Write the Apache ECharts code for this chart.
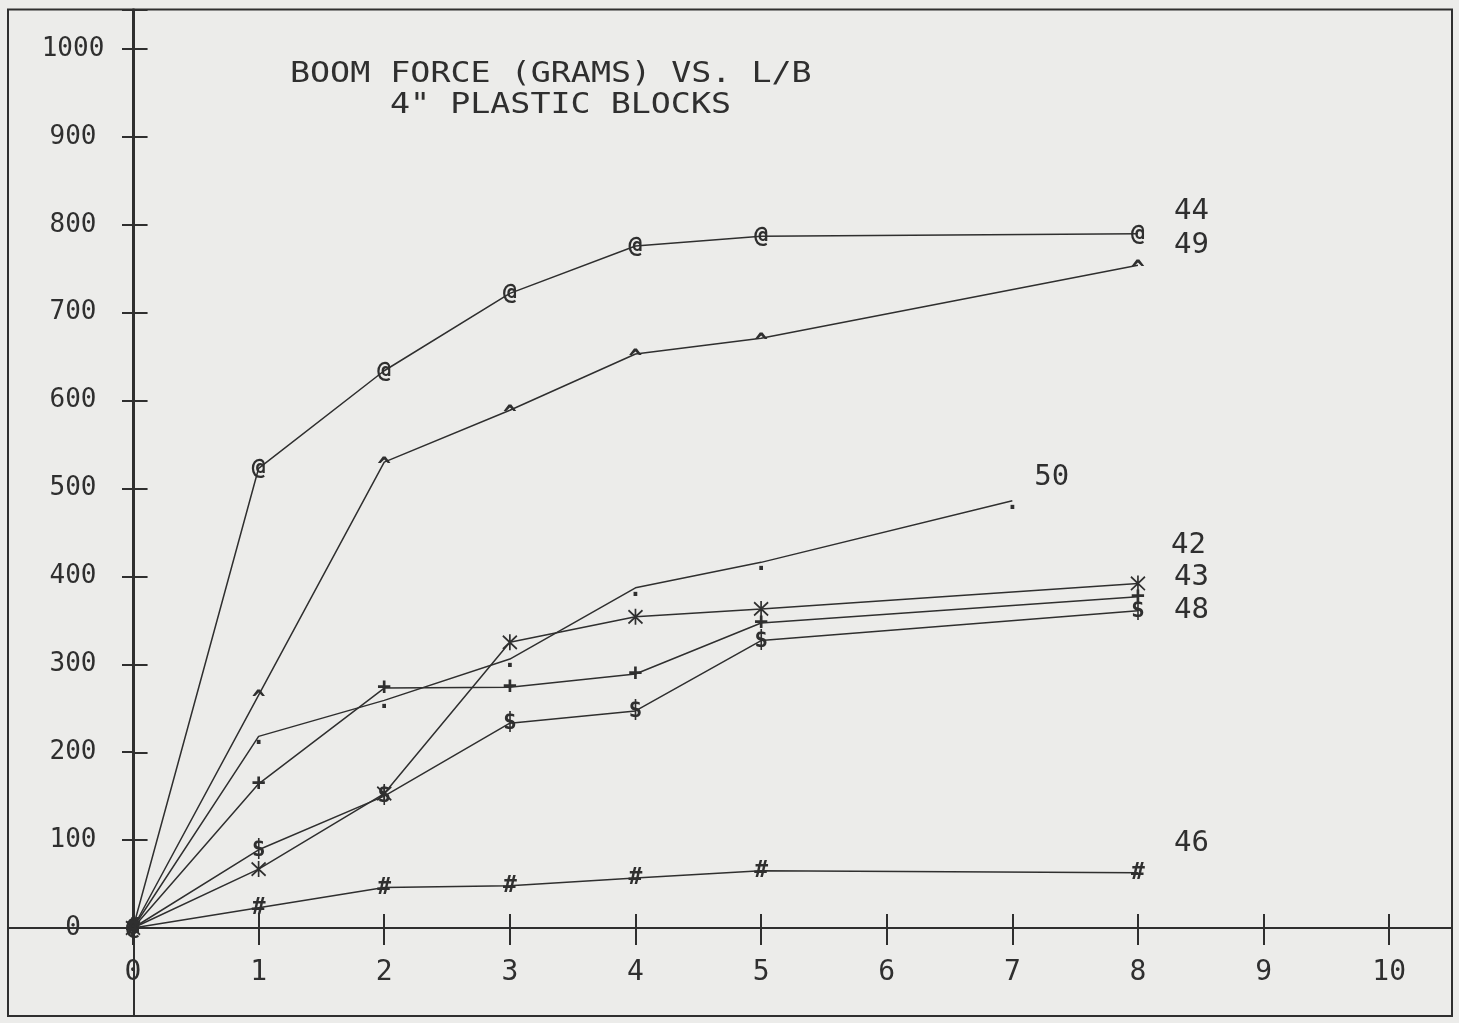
<!DOCTYPE html>
<html>
<head>
<meta charset="utf-8">
<script src="https://cdn.jsdelivr.net/npm/echarts@6/dist/echarts.min.js"></script>
<style>
  html, body { margin: 0; background: #ececea; }
  #chart { width: 1459px; height: 1023px; }
</style>
</head>
<body>
<div id="chart"></div>
<script>
// L/B values (x) and boom force in grams (y)
const lbMain = [0, 1, 2, 3, 4, 5, 8];
const lb50 = [0, 1, 2, 3, 4, 5, 7];

const force44 = [0, 523, 634, 722, 776, 787, 790];
const force49 = [0, 265, 530, 589, 653, 671, 754];
const force50 = [0, 218, 259, 306, 387, 416, 486];
const force42 = [0, 67, 153, 325, 354, 363, 392];
const force43 = [0, 164, 273, 274, 289, 347, 377];
const force48 = [0, 89, 150, 233, 247, 327, 361];
const force46 = [0, 23, 46, 48, 57, 65, 63];

const xTickLabels = [0, 1, 2, 3, 4, 5, 6, 7, 8, 9, 10];
const yTickLabels = [0, 100, 200, 300, 400, 500, 600, 700, 800, 900, 1000];

const ink = "#2f2f2f";
const mono = '"DejaVu Sans Mono", "Liberation Mono", monospace';

// plotter glyph used for each run, plus where its number is written
const styleFor = {
  "44": { mark: "@", markOffset: [0, 0], endOffset: [28, -22] },
  "49": { mark: "^", markOffset: [0, 6], endOffset: [28, -20] },
  "50": { mark: ".", markOffset: [0, 2], endOffset: [14, -23] },
  "42": { mark: null, markOffset: [0, 0], endOffset: [25, -38] },
  "43": { mark: "+", markOffset: [0, 0], endOffset: [28, -19] },
  "48": { mark: "$", markOffset: [0, 0], endOffset: [28, 0] },
  "46": { mark: "#", markOffset: [0, 0], endOffset: [28, -29] }
};

function pairs(xs, ys) {
  return xs.map((x, i) => [x, ys[i]]);
}

function run(name, xs, ys) {
  const st = styleFor[name];
  const s = {
    name: name,
    type: "line",
    xAxisIndex: 0,
    yAxisIndex: 0,
    data: pairs(xs, ys),
    lineStyle: { color: ink, width: 1.5 },
    silent: true,
    animation: false,
    endLabel: {
      show: true,
      formatter: "{a}",
      color: ink,
      fontFamily: mono,
      fontSize: 29,
      offset: st.endOffset
    }
  };
  if (st.mark) {
    s.symbol = "circle";
    s.symbolSize = 1;
    s.itemStyle = { color: "rgba(0,0,0,0)" };
    s.label = {
      show: true,
      position: "inside",
      formatter: st.mark,
      color: ink,
      fontFamily: mono,
      fontSize: 23,
      fontWeight: "bold",
      offset: st.markOffset
    };
  } else {
    s.symbol = "path://M0 1L10 11M10 1L0 11M5 0L5 12";
    s.symbolSize = [14, 16];
    s.itemStyle = { color: "none", borderColor: ink, borderWidth: 1.8 };
  }
  return s;
}

const chart = echarts.init(document.getElementById("chart"));

const axisLine = { lineStyle: { color: ink, width: 2 } };
const tickStyle = { color: ink, width: 2 };

chart.setOption({
  backgroundColor: "#ececea",
  animation: false,
  grid: [
    // plotting area: origin sits at the lower-left corner, so labels hug the zero lines
    { left: 133, right: 7, top: 9.5, bottom: 95, outerBoundsMode: "none", show: false },
    // full frame: carries the border and the axis lines running past the origin
    { left: 8, right: 7, top: 9.5, bottom: 7, outerBoundsMode: "none", show: true,
      borderColor: ink, borderWidth: 2, backgroundColor: "transparent" },
    // thin strip just under the x axis: its split lines are the lower halves of the x ticks
    { left: 133, right: 7, top: 928, height: 17, outerBoundsMode: "none", show: false }
  ],
  xAxis: [
    {
      type: "value", gridIndex: 0, min: 0, max: 10.5, interval: 1,
      axisLine: Object.assign({ onZero: false }, axisLine),
      axisTick: { show: true, inside: true, length: 14, lineStyle: tickStyle },
      splitLine: { show: false },
      axisLabel: {
        color: ink, fontFamily: mono, fontSize: 28, margin: 31,
        formatter: v => xTickLabels.includes(v) ? String(v) : ""
      }
    },
    {
      type: "value", gridIndex: 1, min: -1, max: 10.5, interval: 1,
      axisLine: Object.assign({ onZero: true }, axisLine),
      axisTick: { show: false },
      splitLine: { show: false },
      axisLabel: { show: false }
    },
    {
      type: "value", gridIndex: 2, min: 0, max: 10.5, interval: 1,
      axisLine: { show: false },
      axisTick: { show: false },
      axisLabel: { show: false },
      splitLine: { show: true, lineStyle: tickStyle }
    }
  ],
  yAxis: [
    {
      type: "value", gridIndex: 0, min: 0, max: 1045, interval: 100,
      axisLine: Object.assign({ onZero: false }, axisLine),
      axisTick: { show: true, length: 11, lineStyle: tickStyle },
      splitLine: { show: false },
      axisLabel: {
        color: ink, fontFamily: mono, fontSize: 26, margin: 60, align: "center",
        formatter: v => yTickLabels.includes(v) ? String(v) : ""
      }
    },
    {
      type: "value", gridIndex: 1, min: -100, max: 1045, interval: 100,
      axisLine: Object.assign({ onZero: true }, axisLine),
      axisTick: { show: true, inside: true, length: 14, lineStyle: tickStyle },
      splitLine: { show: false },
      axisLabel: { show: false }
    },
    { type: "value", gridIndex: 2, show: false }
  ],
  graphic: [
    {
      type: "text", x: 290, y: 75, scaleX: 1.19,
      style: { text: "BOOM FORCE (GRAMS) VS. L/B", fill: ink, fontFamily: mono, fontSize: 28, verticalAlign: "middle" }
    },
    {
      type: "text", x: 390, y: 106, scaleX: 1.19,
      style: { text: "4\" PLASTIC BLOCKS", fill: ink, fontFamily: mono, fontSize: 28, verticalAlign: "middle" }
    }
  ],
  series: [
    run("44", lbMain, force44),
    run("49", lbMain, force49),
    run("50", lb50, force50),
    run("42", lbMain, force42),
    run("43", lbMain, force43),
    run("48", lbMain, force48),
    run("46", lbMain, force46)
  ]
});
</script>
</body>
</html>
